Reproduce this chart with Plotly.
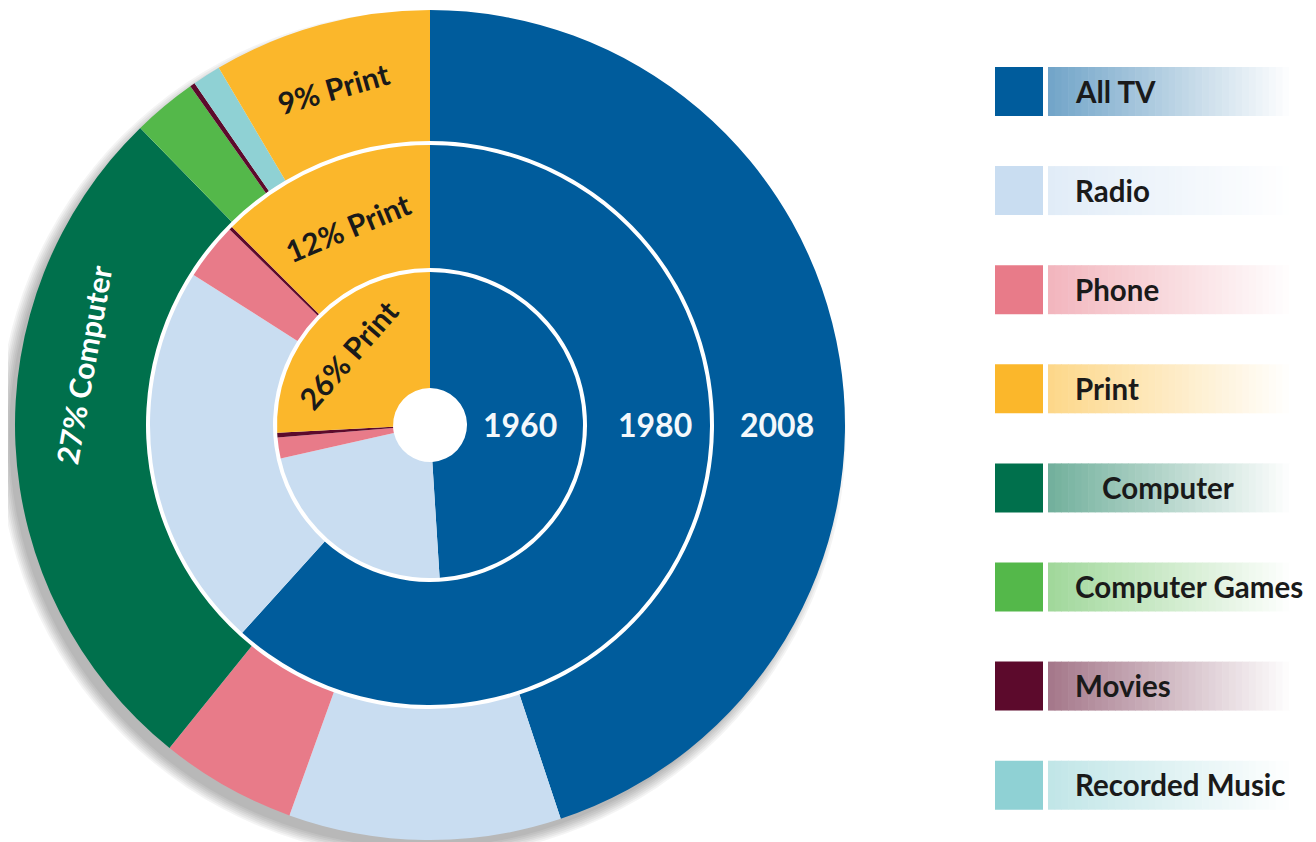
import math
import plotly.graph_objects as go

# ---------------- data ----------------
categories = ["All TV", "Radio", "Phone", "Computer", "Computer Games",
              "Movies", "Recorded Music", "Print"]
share_1960 = [49.0, 22.5, 2.2, 0.0, 0.0, 0.5, 0.0, 25.8]
share_1980 = [61.7, 22.3, 3.3, 0.0, 0.0, 0.2, 0.0, 12.5]
share_2008 = [44.9, 10.6, 5.3, 26.9, 2.5, 0.2, 1.1, 8.5]
years = ["1960", "1980", "2008"]
slice_labels = ["26% Print", "12% Print", "9% Print", "27% Computer"]
legend_order = ["All TV", "Radio", "Phone", "Print", "Computer",
                "Computer Games", "Movies", "Recorded Music"]

# ---------------- style ----------------
colors = {
    "All TV": "#005c9c",
    "Radio": "#c9ddf1",
    "Phone": "#e87b89",
    "Computer": "#00704c",
    "Computer Games": "#54b84a",
    "Movies": "#5c0a2c",
    "Recorded Music": "#8fd1d4",
    "Print": "#fbb72b",
}
FONT = "Lato"
W, H = 1316, 842
OFF = 8                     # page body margin
CX, CY = 430, 425           # pixel centre on the page (from top-left)

def px(x):
    return (x - OFF) / W

def py(y):
    return (H - (y - OFF)) / H

def domain(r, cx=CX, cy=CY):
    return dict(x=[px(cx - r), px(cx + r)], y=[py(cy + r), py(cy - r)])

fig = go.Figure()
shapes = []

# soft drop shadow toward the lower left (circles under the pies)
for i in range(7):
    r = 413 + 1.8 * i
    cx, cy = CX - 8, CY + 10
    shapes.append(dict(type="circle", xref="paper", yref="paper",
                       x0=px(cx - r), x1=px(cx + r), y0=py(cy + r), y1=py(cy - r),
                       fillcolor="rgba(0,0,0,0.045)", line=dict(width=0), layer="below"))
# white disc so that the gaps between the rings stay white
shapes.append(dict(type="circle", xref="paper", yref="paper",
                   x0=px(CX - 414), x1=px(CX + 414), y0=py(CY + 414), y1=py(CY - 414),
                   fillcolor="white", line=dict(width=0), layer="below"))

rings = [
    (share_2008, 415, 284),
    (share_1980, 280, 157),
    (share_1960, 153, 37),
]
for vals, r_out, r_in in rings:
    fig.add_trace(go.Pie(
        labels=categories, values=vals, textinfo="none",
        marker=dict(colors=[colors[c] for c in categories], line=dict(width=0)),
        hole=r_in / r_out, sort=False, direction="clockwise", rotation=0,
        domain=domain(r_out), showlegend=False, hoverinfo="label+value",
    ))

annotations = []
# slice labels (angle clockwise from 12 o'clock, radius in px), tangential text
label_geom = [(311, 108, "#1a1a1a"), (337.5, 214, "#1a1a1a"),
              (344, 351, "#1a1a1a"), (280, 352, "white")]
for txt, (ang, rad, col) in zip(slice_labels, label_geom):
    a = math.radians(ang)
    x = CX + rad * math.sin(a)
    y = CY - rad * math.cos(a)
    annotations.append(dict(x=px(x), y=py(y), xref="paper", yref="paper",
                            text=txt, showarrow=False, textangle=ang - 360,
                            xanchor="center", yanchor="middle",
                            font=dict(family=FONT, size=30, color=col, weight="bold")))

# year labels on the TV slices
year_x = [520, 655, 777]
for yr, x in zip(years, year_x):
    annotations.append(dict(x=px(x), y=py(CY - 1), xref="paper", yref="paper",
                            text=yr, showarrow=False,
                            font=dict(family=FONT, size=32, color="#f4f8fb", weight="bold"),
                            xanchor="center", yanchor="middle"))

# custom legend with gradient bars
def hex_to_rgb(h):
    h = h.lstrip("#")
    return tuple(int(h[i:i + 2], 16) for i in (0, 2, 4))

row0, step = 91, 99.1
sq_l, sq_r = 995, 1043
bar_l, bar_r = 1048, 1316
n_steps = 40
for i, cat in enumerate(legend_order):
    yc = row0 + step * i
    y0, y1 = yc - 24, yc + 25
    shapes.append(dict(type="rect", xref="paper", yref="paper",
                       x0=px(sq_l), x1=px(sq_r), y0=py(y1), y1=py(y0),
                       fillcolor=colors[cat], line=dict(width=0), layer="above"))
    rgb = hex_to_rgb(colors[cat])
    seg = (bar_r - bar_l) / n_steps
    for k in range(n_steps):
        t = k / (n_steps - 1)
        mix = 0.45 + 0.55 * min(1.0, t / 0.92)
        c = tuple(round(v + (255 - v) * mix) for v in rgb)
        shapes.append(dict(type="rect", xref="paper", yref="paper",
                           x0=px(bar_l + k * seg), x1=px(bar_l + (k + 1) * seg + 0.6),
                           y0=py(y1), y1=py(y0),
                           fillcolor="rgb(%d,%d,%d)" % c, line=dict(width=0), layer="above"))
    tx = 1100 if cat == "Computer" else 1073
    annotations.append(dict(x=px(tx), y=py(yc), xref="paper", yref="paper",
                            text=cat, showarrow=False, xanchor="left", yanchor="middle",
                            font=dict(family=FONT, size=29.5, color="#1a1a1a", weight="bold")))

fig.update_layout(
    width=W, height=H,
    margin=dict(l=0, r=0, t=0, b=0),
    paper_bgcolor="white", plot_bgcolor="white",
    showlegend=False,
    shapes=shapes, annotations=annotations,
    font=dict(family=FONT),
)

fig.write_html("out.html")
